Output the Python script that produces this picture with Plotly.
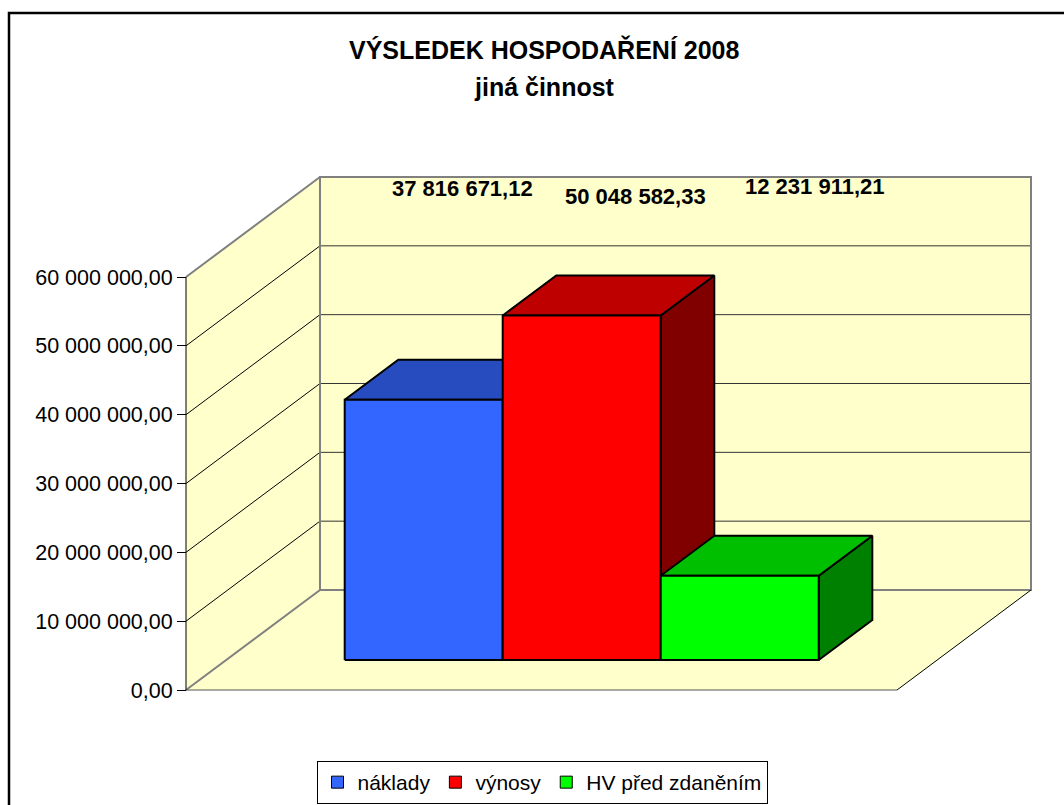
import plotly.graph_objects as go

# ---------------- data ----------------
series_names = ["náklady", "výnosy", "HV před zdaněním"]
series_values = [37816671.12, 50048582.33, 12231911.21]
tick_values = [0, 10000000, 20000000, 30000000, 40000000, 50000000, 60000000]
title_line1 = "VÝSLEDEK HOSPODAŘENÍ 2008"
title_line2 = "jiná činnost"

# ---------------- style ----------------
front_colors = ["#3366FF", "#FF0000", "#00FF00"]
top_colors = ["#264CBF", "#BF0000", "#00BF00"]
side_colors = ["#1A3380", "#800000", "#008000"]
WALL = "#FFFFCC"
EDGE_GRAY = "#808080"
FONT = "Liberation Sans, Arial, sans-serif"

# pseudo-3D geometry (x in bar-width units, y in value units)
AXIS_MAX = tick_values[-1]
FLOOR_W = 4.5          # 3 bars + 150 % gap
GAP_LEFT = 0.75
DX = 0.848             # depth offset along x
DY = 14.53e6           # depth offset along y
BAR_D0, BAR_D1 = 0.3, 0.7

PX_X = 158.0           # pixels per x unit
PX_Y = 6.883e-6        # pixels per value unit
PAD = 6
PADX = PAD / PX_X
PADY = PAD / PX_Y

W, H = 1064, 805
ML, MR, MT, MB = 186 - PAD, W - 1031 - PAD, 177 - PAD, H - 690 - PAD
plot_w = W - ML - MR
plot_h = H - MT - MB

xr = [-PADX, FLOOR_W + DX + PADX]
yr = [-PADY, AXIS_MAX + DY + PADY]


def fmt(v):
    return f"{v:,.2f}".replace(",", " ").replace(".", ",")


def poly(pts, fill, width=2, color="black"):
    xs = [p[0] for p in pts] + [pts[0][0]]
    ys = [p[1] for p in pts] + [pts[0][1]]
    return go.Scatter(x=xs, y=ys, mode="lines", fill="toself", fillcolor=fill,
                      line=dict(color=color, width=width), showlegend=False,
                      hoverinfo="skip")


fig = go.Figure()
shapes = []


def path_shape(pts, fill=None, line_color=None, width=1, closed=True, layer="below"):
    d = "M " + " L ".join(f"{x},{y}" for x, y in pts) + (" Z" if closed else "")
    shp = dict(type="path", path=d, xref="x", yref="y", layer=layer,
               line=dict(width=width if line_color else 0, color=line_color or "rgba(0,0,0,0)"))
    if fill:
        shp["fillcolor"] = fill
    return shp


# walls and floor
shapes.append(path_shape([(0, 0), (0, AXIS_MAX), (DX, AXIS_MAX + DY), (DX, DY)], fill=WALL))
shapes.append(path_shape([(DX, DY), (FLOOR_W + DX, DY), (FLOOR_W + DX, AXIS_MAX + DY), (DX, AXIS_MAX + DY)], fill=WALL))
shapes.append(path_shape([(0, 0), (FLOOR_W, 0), (FLOOR_W + DX, DY), (DX, DY)], fill=WALL))

# gridlines
for v in tick_values[1:-1]:
    shapes.append(path_shape([(0, v), (DX, v + DY)], line_color="black", width=1, closed=False))
    shapes.append(path_shape([(DX, v + DY), (FLOOR_W + DX, v + DY)], line_color="#333333", width=1, closed=False))

# edges
shapes.append(path_shape([(DX, DY), (FLOOR_W + DX, DY), (FLOOR_W + DX, AXIS_MAX + DY), (DX, AXIS_MAX + DY)],
                         line_color=EDGE_GRAY, width=2))
shapes.append(path_shape([(0, AXIS_MAX), (DX, AXIS_MAX + DY)], line_color=EDGE_GRAY, width=2, closed=False))
shapes.append(path_shape([(0, 0), (DX, DY)], line_color=EDGE_GRAY, width=2, closed=False))
shapes.append(path_shape([(0, 0), (FLOOR_W, 0)], line_color="#555555", width=1, closed=False))
shapes.append(path_shape([(FLOOR_W, 0), (FLOOR_W + DX, DY)], line_color="black", width=1, closed=False))
shapes.append(path_shape([(0, 0), (0, AXIS_MAX)], line_color="black", width=1, closed=False))

# bars
bx, by = (BAR_D1 - BAR_D0) * DX, (BAR_D1 - BAR_D0) * DY
for i, v in enumerate(series_values):
    x0 = GAP_LEFT + i + BAR_D0 * DX
    x1 = x0 + 1
    yb = BAR_D0 * DY
    yt = yb + v
    fig.add_trace(poly([(x1, yb), (x1 + bx, yb + by), (x1 + bx, yt + by), (x1, yt)], side_colors[i]))
    fig.add_trace(poly([(x0, yt), (x1, yt), (x1 + bx, yt + by), (x0 + bx, yt + by)], top_colors[i]))
    fig.add_trace(poly([(x0, yb), (x1, yb), (x1, yt), (x0, yt)], front_colors[i]))

# legend proxies
for i, name in enumerate(series_names):
    fig.add_trace(go.Scatter(x=[None], y=[None], mode="markers", name=name,
                             marker=dict(symbol="square", size=12, color=front_colors[i],
                                         line=dict(color="black", width=1)),
                             hoverinfo="skip"))

# data labels
LABEL_XSHIFT = [12, 27, 48]
LABEL_Y = [72.93e6, 71.63e6, 73.08e6]
annotations = []
for i, v in enumerate(series_values):
    annotations.append(dict(x=GAP_LEFT + i + 0.5 + (BAR_D0 + BAR_D1) / 2 * DX, y=LABEL_Y[i],
                            xref="x", yref="y", text=f"<b>{fmt(v)}</b>", showarrow=False,
                            xshift=LABEL_XSHIFT[i],
                            font=dict(family=FONT, size=22, color="black")))


def px_to_paper_x(px):
    return (px - ML) / plot_w


def px_to_paper_y(py):
    return (H - MB - py) / plot_h


# title
annotations.append(dict(x=px_to_paper_x(544), y=px_to_paper_y(50), xref="paper", yref="paper",
                        text=f"<b>{title_line1}</b>", showarrow=False, xanchor="center", yanchor="middle",
                        font=dict(family=FONT, size=25, color="black")))
annotations.append(dict(x=px_to_paper_x(544), y=px_to_paper_y(87), xref="paper", yref="paper",
                        text=f"<b>{title_line2}</b>", showarrow=False, xanchor="center", yanchor="middle",
                        font=dict(family=FONT, size=25, color="black")))

# outer chart border
shapes.append(dict(type="rect", xref="paper", yref="paper",
                   x0=px_to_paper_x(9), x1=px_to_paper_x(1100),
                   y0=px_to_paper_y(840), y1=px_to_paper_y(13),
                   line=dict(color="black", width=2.5), fillcolor="rgba(0,0,0,0)", layer="above"))

fig.update_layout(
    width=W, height=H,
    margin=dict(l=ML, r=MR, t=MT, b=MB, pad=0, autoexpand=False),
    paper_bgcolor="white", plot_bgcolor="white",
    separators=", ",
    font=dict(family=FONT, size=21.5, color="black"),
    showlegend=True,
    legend=dict(orientation="h", x=px_to_paper_x(542), xanchor="center",
                y=px_to_paper_y(761), yanchor="top",
                bordercolor="black", borderwidth=1, bgcolor="white",
                font=dict(family=FONT, size=21, color="black"),
                itemclick=False, itemdoubleclick=False),
    xaxis=dict(range=xr, visible=False, fixedrange=True),
    yaxis=dict(range=yr, tickvals=tick_values, tickformat=",.2f",
               showgrid=False, zeroline=False, showline=False,
               ticks="outside", ticklen=9, tickcolor="black", tickwidth=1,
               anchor="free", position=PADX / (xr[1] - xr[0]),
               tickfont=dict(family=FONT, size=21.5, color="black"), fixedrange=True),
    shapes=shapes,
    annotations=annotations,
)

fig.write_html("out.html", config={"displayModeBar": False},
               post_script="document.body.style.margin='0px';")
